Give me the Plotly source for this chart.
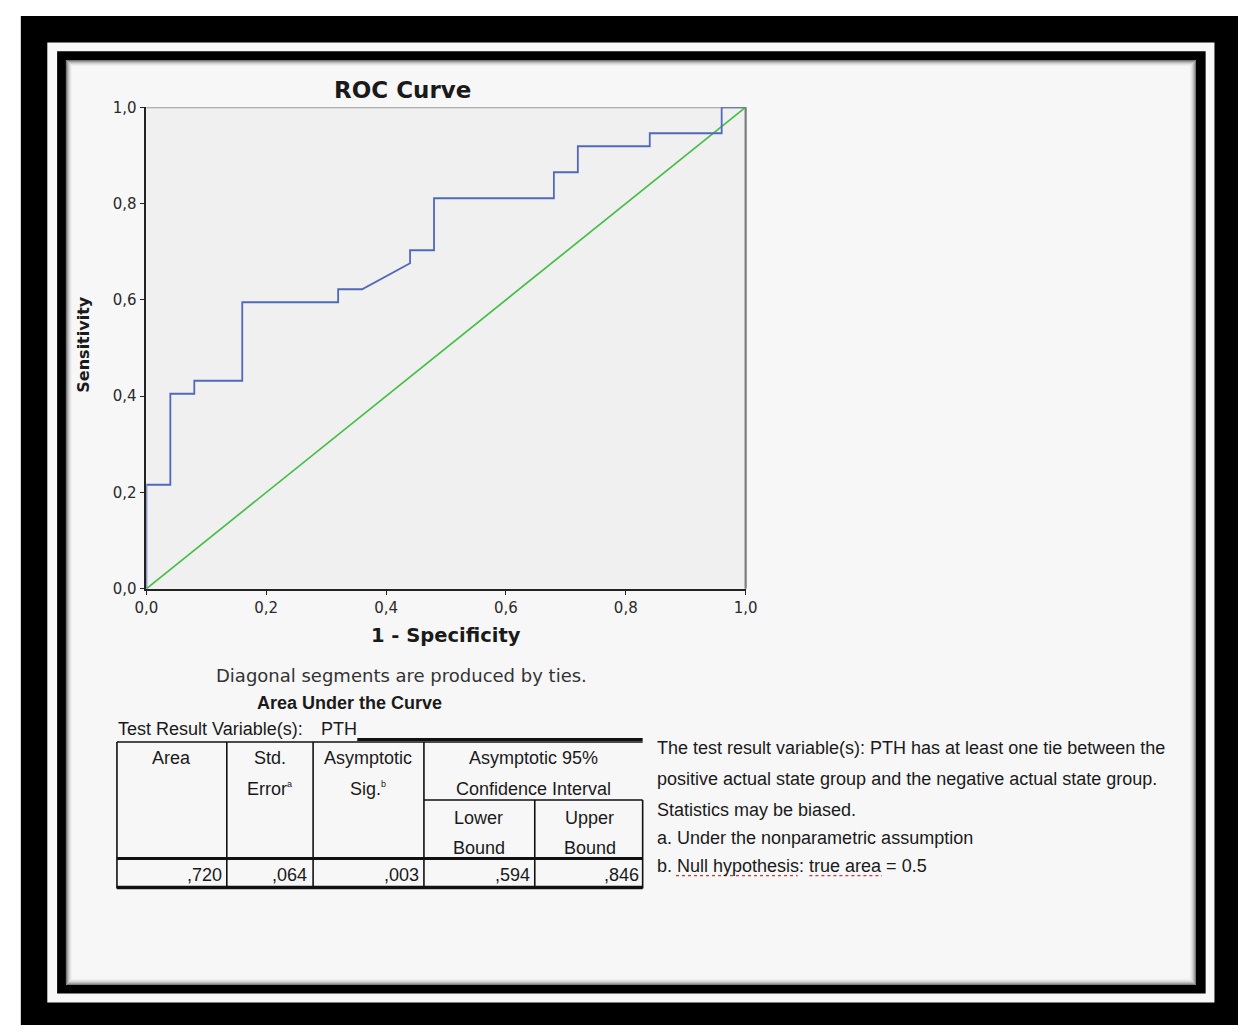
import plotly.graph_objects as go

# ---------------- data ----------------
fpr = [0.0, 0.0, 0.04, 0.04, 0.08, 0.08, 0.16, 0.16, 0.32, 0.32, 0.36, 0.44,
       0.44, 0.48, 0.48, 0.68, 0.68, 0.72, 0.72, 0.84, 0.84, 0.96, 0.96, 1.0]
sensitivity = [0.0, 0.216, 0.216, 0.405, 0.405, 0.432, 0.432, 0.595, 0.595,
               0.622, 0.622, 0.676, 0.703, 0.703, 0.811, 0.811, 0.865, 0.865,
               0.919, 0.919, 0.946, 0.946, 1.0, 1.0]
ref_x = [0.0, 1.0]
ref_y = [0.0, 1.0]
tick_vals = [0.0, 0.2, 0.4, 0.6, 0.8, 1.0]
tick_text = ["0,0", "0,2", "0,4", "0,6", "0,8", "1,0"]

table_values = [",720", ",064", ",003", ",594", ",846"]
footnotes = [
    "The test result variable(s): PTH has at least one tie between the",
    "positive actual state group and the negative actual state group.",
    "Statistics may be biased.",
    "a. Under the nonparametric assumption",
    "b. Null hypothesis: true area = 0.5",
]

W, H = 1250, 1034


def X(px):
    return px / W


def Y(py):
    return 1 - py / H


shapes = []


def rect(x0, y0, x1, y1, fill=None, line=None, lw=0, layer="below"):
    d = dict(type="rect", xref="paper", yref="paper",
             x0=X(x0), x1=X(x1), y0=Y(y0), y1=Y(y1), layer=layer,
             line=dict(width=lw, color=line if line else "rgba(0,0,0,0)"))
    if fill:
        d["fillcolor"] = fill
    shapes.append(d)


def hline(x0, x1, y, color="#111", w=1.5, dash="solid", layer="below"):
    shapes.append(dict(type="line", xref="paper", yref="paper",
                       x0=X(x0), x1=X(x1), y0=Y(y), y1=Y(y), layer=layer,
                       line=dict(color=color, width=w, dash=dash)))


def vline(x, y0, y1, color="#111", w=1.5, layer="below"):
    shapes.append(dict(type="line", xref="paper", yref="paper",
                       x0=X(x), x1=X(x), y0=Y(y0), y1=Y(y1), layer=layer,
                       line=dict(color=color, width=w)))


# frames
rect(9, 7, 1250, 1034, fill="#000000")
rect(36, 34, 1226, 1011, fill="#f8f8f8")
rect(46, 43, 1217, 1002, fill="#000000")
rect(55, 52, 1207, 993, fill="#f7f7f7")
for i, c in enumerate(["#6a6a6a", "#939393", "#b5b5b5", "#cfcfcf", "#e2e2e2", "#eeeeee"]):
    rect(55 + i + 0.5, 52 + i + 0.5, 1207 - i - 0.5, 993 - i - 0.5, line=c, lw=1)

# plot area background and frame
PX0, PX1, PY0, PY1 = 137, 748, 590, 100
rect(PX0, PY1, PX1, PY0, fill="#f0f0f0")
hline(PX0, PX1, PY1 + 0.5, color="#9a9a9a", w=1.2)
vline(PX1, PY1, PY0, color="#7c7c7c", w=2.2)

# table lines
TL, TR = 107, 643
hline(TL, TR, 746, w=1.4)
hline(352, TR, 743.5, w=3)
for cx in [TL, 219, 307, 420]:
    vline(cx, 746, 895, w=1.6)
for cx in [533, TR]:
    vline(cx, 805, 895, w=1.6)
hline(420, TR, 805, w=1.4)
hline(TL, TR, 864.5, w=3)
hline(TL, TR, 894, w=3.5)

# spell-check dotted underlines
hline(677, 801, 882, color="#e03030", w=1.3, dash="dot")
hline(813, 887, 882, color="#e03030", w=1.3, dash="dot")

annotations = []


def text(s, x, y, size=18, bold=False, family="Liberation Sans, Arial",
         xanchor="center", angle=0, color="#1a1a1a"):
    annotations.append(dict(text=("<b>%s</b>" % s) if bold else s,
                            x=X(x), y=Y(y), xref="paper", yref="paper",
                            xanchor=xanchor, yanchor="middle", showarrow=False,
                            textangle=angle,
                            font=dict(size=size, family=family, color=color)))


DJ = "DejaVu Sans"
SUP = "<sup><span style='font-size:9px'>%s</span></sup>"
text("ROC Curve", 398, 82, size=23, bold=True, family=DJ)
text("Sensitivity", 72, 342, size=16, bold=True, family=DJ, angle=-90)
text("1 - Specificity", 443, 638, size=19.5, bold=True, family=DJ)
text("Diagonal segments are produced by ties.", 397, 678, size=18, family=DJ, color="#333")

text("Area Under the Curve", 344, 706, size=18, bold=True)
text("Test Result Variable(s):", 106, 733, size=18, xanchor="left")
text("PTH", 313, 733, size=18, xanchor="left")

text("Area", 163, 762)
text("Std.", 263, 762)
text("Error" + SUP % "a", 263, 794)
text("Asymptotic", 363, 762)
text("Sig." + SUP % "b", 363, 794)
text("Asymptotic 95%", 532, 762)
text("Confidence Interval", 532, 794)
text("Lower", 476, 823)
text("Bound", 476, 854)
text("Upper", 589, 823)
text("Bound", 589, 854)
for xr, v in zip([216, 303, 417, 530, 641], table_values):
    text(v, xr, 881, xanchor="right")

for yy, s in zip([752, 784, 815, 844, 872], footnotes):
    text(s, 656, yy, size=18, xanchor="left")

fig = go.Figure()
fig.add_trace(go.Scatter(x=ref_x, y=ref_y, mode="lines",
                         line=dict(color="#45bf45", width=1.7), hoverinfo="skip"))
fig.add_trace(go.Scatter(x=fpr, y=sensitivity, mode="lines",
                         line=dict(color="#5068bb", width=1.8), hoverinfo="skip"))

axis_common = dict(range=[0, 1], showgrid=False, zeroline=False, showline=True,
                   linecolor="#222", linewidth=1.5, ticks="outside", ticklen=5,
                   tickcolor="#222", tickwidth=1.3, tickvals=tick_vals, ticktext=tick_text,
                   tickfont=dict(family=DJ, size=15, color="#2a2a2a"), fixedrange=True)

fig.update_layout(
    width=W, height=H, margin=dict(l=0, r=0, t=0, b=0),
    paper_bgcolor="#ffffff", plot_bgcolor="rgba(0,0,0,0)",
    showlegend=False,
    xaxis=dict(domain=[X(PX0), X(PX1)], **axis_common),
    yaxis=dict(domain=[Y(PY0), Y(PY1)], **axis_common),
    shapes=shapes, annotations=annotations,
)

fig.write_html("out.html", config={"displayModeBar": False},
               post_script="document.body.style.margin='0';document.body.style.overflow='hidden';")
